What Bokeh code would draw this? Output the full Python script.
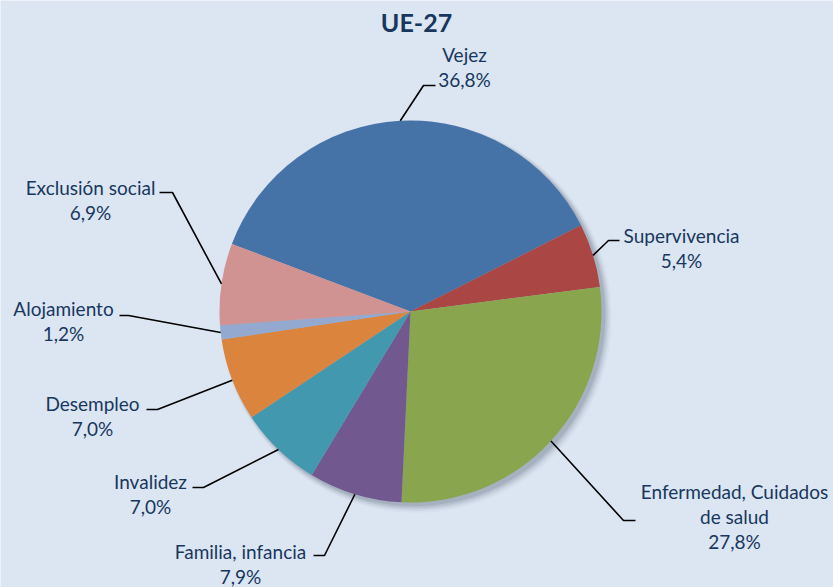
import math
from bokeh.plotting import figure
from bokeh.models import Range1d, ColumnDataSource
from bokeh.embed import file_html
from bokeh.resources import INLINE
from bokeh.core.properties import value

# ---------------- data ----------------
title_text = "UE-27"
categories = ["Vejez", "Supervivencia", "Enfermedad, Cuidados\nde salud", "Familia, infancia",
              "Invalidez", "Desempleo", "Alojamiento", "Exclusión social"]
values = [36.8, 5.4, 27.8, 7.9, 7.0, 7.0, 1.2, 6.9]
colors = ["#4572A7", "#AA4643", "#89A54E", "#71588F", "#4198AF", "#DB843D", "#93A9CF", "#D19392"]

# ---------------- layout (image pixel coords) ----------------
BG = "#DCE6F2"
TXT = "#17375E"
W, H = 833, 587
cx, cy, R = 410, 311, 191
start_deg = 159.3
label_xy = [(464, 54), (681, 235), (734, 491), (240, 551), (150, 481), (92, 403), (63, 308), (90, 187)]
elbow_xy = [(423, 85), (608, 240), (623, 520), (324, 555), (203, 487), (157, 409), (128, 315), (172, 192)]
end_xy = [(435, 85), (619, 240), (635, 520), (313, 555), (192, 487), (146, 409), (119, 315), (159, 192)]
line_gap = 25

def fy(y):
    return H - y

p = figure(width=W, height=H, x_range=Range1d(0, W), y_range=Range1d(0, H),
           output_backend="svg", toolbar_location=None, min_border=0)
p.axis.visible = False
p.grid.visible = False
p.outline_line_color = None
p.background_fill_color = BG
p.border_fill_color = BG

# soft shadow
for k, a in [(9, 0.03), (7, 0.05), (5, 0.07), (3, 0.10), (1, 0.12)]:
    p.circle(x=[cx + 3 + k * 0.3], y=[fy(cy) - 3 - k * 0.3], radius=R + k * 0.5,
             fill_color="#3A4A5E", fill_alpha=a, line_color=None)

# wedges (clockwise from start_deg)
starts, ends, mids = [], [], []
ang = math.radians(start_deg)
total = sum(values)
for v in values:
    sweep = v / total * 2 * math.pi
    starts.append(ang - sweep)
    ends.append(ang)
    mids.append(ang - sweep / 2)
    ang -= sweep

src = ColumnDataSource(dict(start=starts, end=ends, color=colors))
p.wedge(x=cx, y=fy(cy), radius=R, start_angle="start", end_angle="end",
        fill_color="color", line_color=None, source=src)

# leader lines
for m, el, en in zip(mids, elbow_xy, end_xy):
    sx = cx + R * math.cos(m)
    sy = fy(cy) + R * math.sin(m)
    p.line(x=[sx, el[0], en[0]], y=[sy, fy(el[1]), fy(en[1])], line_color="black", line_width=1.6)

# labels
for cat, v, (lx, ly) in zip(categories, values, label_xy):
    lines = cat.split("\n") + [f"{v:.1f}".replace(".", ",") + "%"]
    xs = [lx] * len(lines)
    ys = [fy(ly + i * line_gap) for i in range(len(lines))]
    p.text(x=xs, y=ys, text=lines, text_align="center", text_baseline="middle",
           text_font=value("Lato"), text_font_size="19px", text_color=TXT)

# title
p.text(x=[416], y=[fy(21)], text=[title_text], text_align="center", text_baseline="middle",
       text_font=value("Lato"), text_font_size="25px", text_font_style="bold", text_color="#17375E")

html = file_html(p, INLINE)
html = html.replace("<body>", '<body style="margin:0;background:%s">' % BG, 1)
open("out.html", "w").write(html)
